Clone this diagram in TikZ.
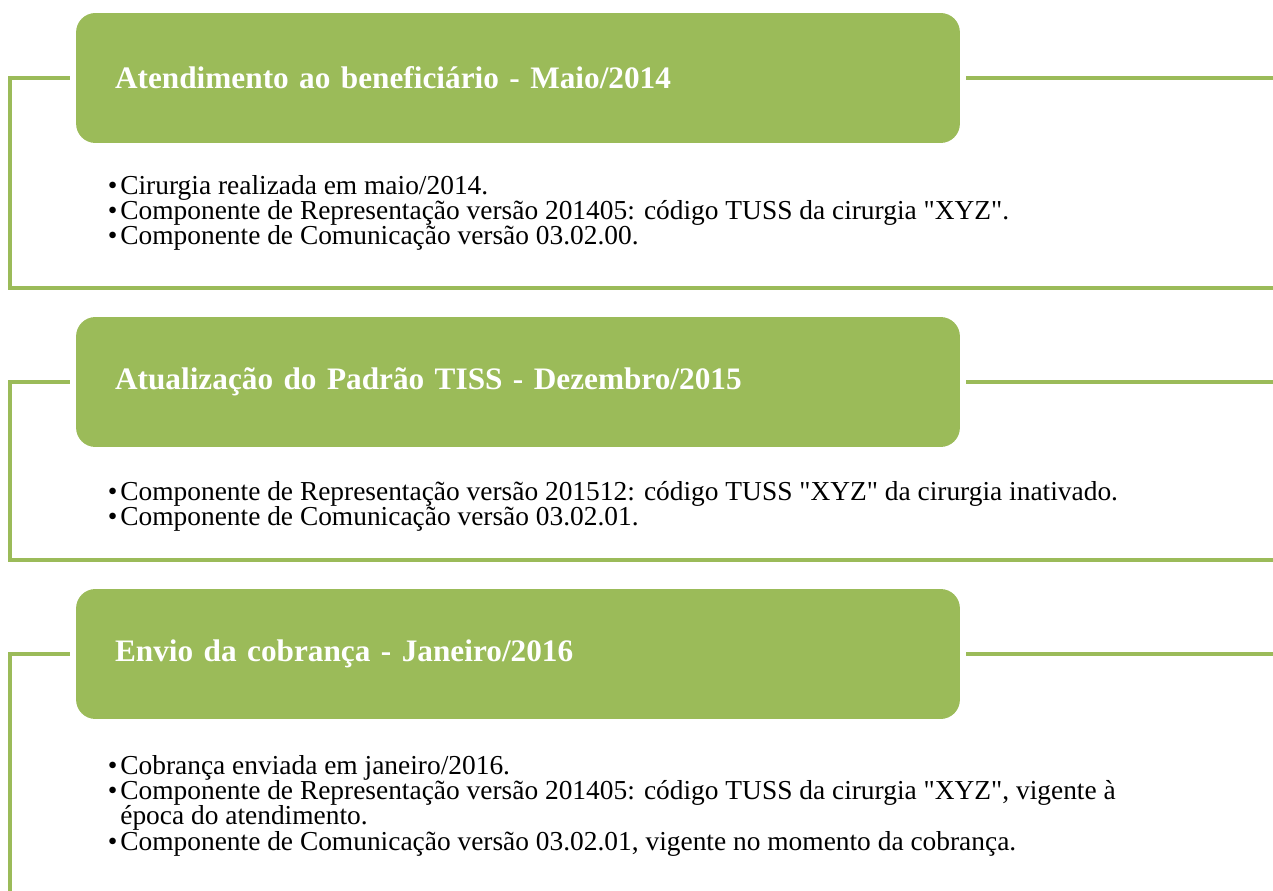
\documentclass[tikz,border=0pt]{standalone}
\usepackage{fontspec}
\setmainfont{Liberation Serif}
\definecolor{olivegreen}{RGB}{155,187,89}
\newcommand{\bodyfont}{\fontsize{15.6}{14.4}\selectfont}
\tikzset{
  hdbox/.style={rectangle, rounded corners=11pt, fill=olivegreen, text=white,
    minimum width=17.68cm, minimum height=2.6cm, inner xsep=0.78cm,
    text width=16.12cm, align=left, font=\fontsize{17.8}{20}\selectfont\bfseries},
  bodytext/.style={anchor=north west, align=left, inner sep=0pt, font=\bodyfont},
  frame/.style={draw=olivegreen, line width=2.8pt}
}
\newcommand{\bul}{\llap{\textbullet\hspace{0.06cm}}}
\newcommand{\qt}[1]{\textquotedbl#1\textquotedbl}

\begin{document}
\begin{tikzpicture}[x=0.02cm, y=-0.02cm]
  \useasboundingbox (0,0) rectangle (1273,891);

  % first step
  \node[hdbox] (hdA) at (518,78) {Atendimento ao beneficiário - Maio/2014};
  \coordinate (cornerA) at (10,78);
  \coordinate (lowA) at (10,288);
  \coordinate (endA) at (1273,288);
  \coordinate (rightA) at (1273,78);
  \draw[frame, shorten <=0.12cm] (hdA.west) -- (cornerA) -- (lowA) -- (endA);
  \draw[frame, shorten <=0.12cm] (hdA.east) -- (rightA);
  \node[bodytext] (txtA) at (120,175) {\bul Cirurgia realizada em maio/2014.\\
    \bul Componente de Representação versão 201405: código TUSS da cirurgia \qt{XYZ}.\\
    \bul Componente de Comunicação versão 03.02.00.};

  % second step
  \node[hdbox] (hdB) at (518,382) {Atualização do Padrão TISS - Dezembro/2015};
  \coordinate (cornerB) at (10,382);
  \coordinate (lowB) at (10,560);
  \coordinate (endB) at (1273,560);
  \coordinate (rightB) at (1273,382);
  \draw[frame, shorten <=0.12cm] (hdB.west) -- (cornerB) -- (lowB) -- (endB);
  \draw[frame, shorten <=0.12cm] (hdB.east) -- (rightB);
  \node[bodytext] (txtB) at (120,481) {\bul Componente de Representação versão 201512: código TUSS \qt{XYZ} da cirurgia inativado.\\
    \bul Componente de Comunicação versão 03.02.01.};

  % third step
  \node[hdbox] (hdC) at (518,654) {Envio da cobrança - Janeiro/2016};
  \coordinate (cornerC) at (10,654);
  \coordinate (lowC) at (10,891);
  \coordinate (rightC) at (1273,654);
  \draw[frame, shorten <=0.12cm] (hdC.west) -- (cornerC) -- (lowC);
  \draw[frame, shorten <=0.12cm] (hdC.east) -- (rightC);
  \node[bodytext] (txtC) at (120,755) {\bul Cobrança enviada em janeiro/2016.\\
    \bul Componente de Representação versão 201405: código TUSS da cirurgia \qt{XYZ}, vigente à\\
    época do atendimento.\\
    \bul Componente de Comunicação versão 03.02.01, vigente no momento da cobrança.};
\end{tikzpicture}
\end{document}
